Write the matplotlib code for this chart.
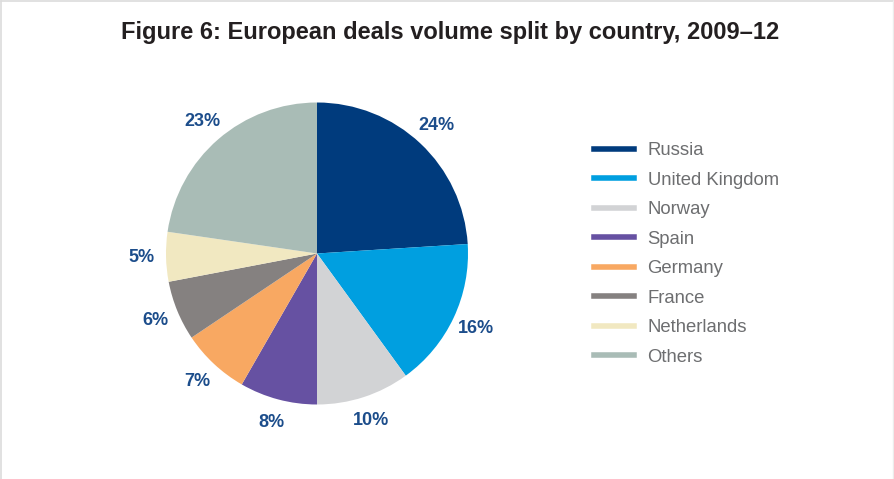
import matplotlib.pyplot as plt
from matplotlib.lines import Line2D

plt.rcParams['font.family'] = ['Liberation Sans', 'DejaVu Sans']

countries = ["Russia", "United Kingdom", "Norway", "Spain", "Germany",
             "France", "Netherlands", "Others"]
shares = [24.0, 16.0, 10.0, 8.3, 7.3, 6.4, 5.3, 22.7]
colors = ['#003b7d', '#009fe0', '#d2d3d5', '#6651a2', '#f8a862',
          '#858180', '#f1e8c1', '#a9bcb6']

W, H = 895, 479
fig = plt.figure(figsize=(W / 100, H / 100), dpi=100)

# pie centre (317, 254) px, radius 151 px; pie uses limits of +-1.25
cx, cy, r = 317, 253.5, 151
side = 2.5 * r
ax = fig.add_axes([(cx - side / 2) / W, (H - cy - side / 2) / H, side / W, side / H])
wedges, texts, autotexts = ax.pie(shares, colors=colors, startangle=90, counterclock=False,
                                  autopct='%.0f%%', pctdistance=1.16,
                                  wedgeprops=dict(linewidth=0))
for t in autotexts:
    t.set_color('#1c4d8b')
    t.set_fontsize(13)
    t.set_fontweight('bold')

fig.text(450 / W, 1 - 32 / H, "Figure 6: European deals volume split by country, 2009\u201312",
         ha='center', va='center', fontsize=17, fontweight='bold', color='#231f20')

handles = [Line2D([0], [0], color=c, linewidth=4) for c in colors]
leg = fig.legend(handles, countries, loc='upper left', bbox_to_anchor=(594 / W, 1 - 142 / H),
                 frameon=False, fontsize=13.3, handlelength=2.15, handletextpad=0.75,
                 labelspacing=0.68, borderpad=0, borderaxespad=0)
for t in leg.get_texts():
    t.set_color('#6d6e70')

# light frame around the figure
fig.add_artist(Line2D([1 / W, 1 / W], [0, 1 - 1 / H], color='#dcdcdc', linewidth=1.2))
fig.add_artist(Line2D([1 / W, 893 / W], [1 - 1 / H, 1 - 1 / H], color='#dcdcdc', linewidth=1.2))
fig.add_artist(Line2D([893 / W, 893 / W], [0, 1 - 1 / H], color='#ececec', linewidth=1))

fig.savefig('out.png', dpi=100)
